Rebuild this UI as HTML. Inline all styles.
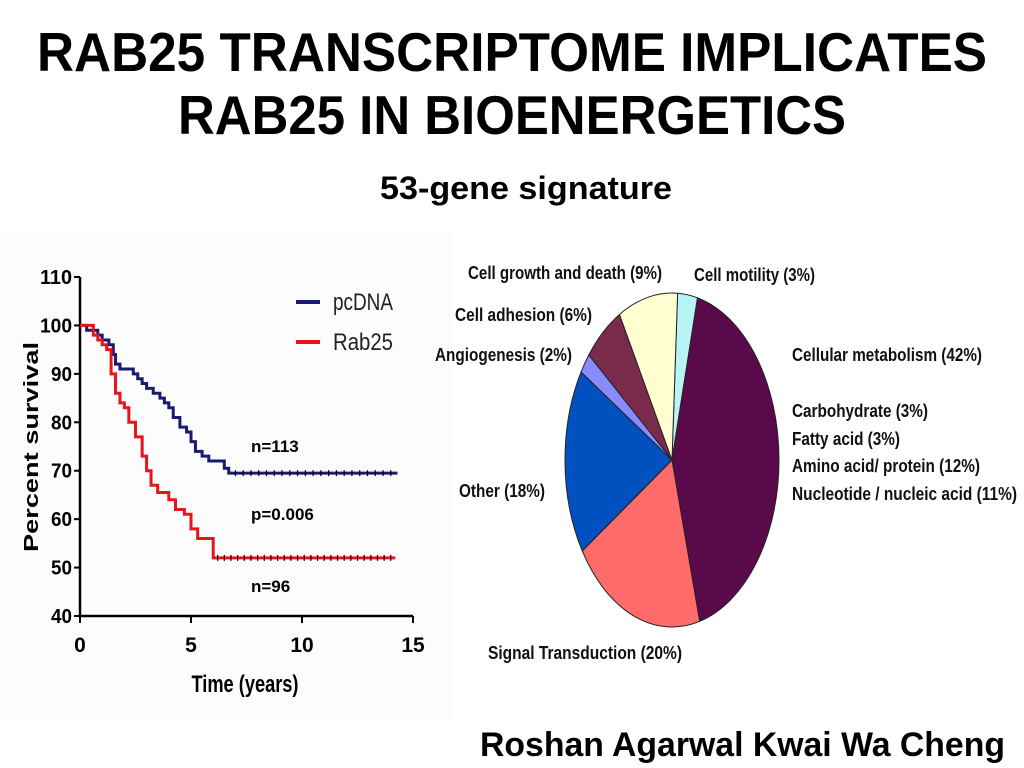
<!DOCTYPE html>
<html><head><meta charset="utf-8"><style>
html,body{margin:0;padding:0;background:#fff;}
svg{display:block;font-family:"Liberation Sans",sans-serif;}
</style></head><body>
<svg width="1024" height="768" viewBox="0 0 1024 768">
<text x="37" y="71" font-size="55" font-weight="bold" textLength="950" lengthAdjust="spacingAndGlyphs">RAB25 TRANSCRIPTOME IMPLICATES</text>
<text x="178" y="134" font-size="55" font-weight="bold" textLength="668" lengthAdjust="spacingAndGlyphs">RAB25 IN BIOENERGETICS</text>
<text x="380" y="199" font-size="32" font-weight="bold" textLength="292" lengthAdjust="spacingAndGlyphs">53-gene signature</text>
<text x="480" y="756" font-size="34" font-weight="bold" textLength="525" lengthAdjust="spacingAndGlyphs">Roshan Agarwal Kwai Wa Cheng</text>
<rect x="0" y="232" width="452" height="488" fill="#fcfcfc"/>
<g id="km"></g>
<g id="pie"></g>
</svg>
<script>
const NS="http://www.w3.org/2000/svg";
const yTicks=[40,50,60,70,80,90,100,110];
const xTicks=[0,5,10,15];
const pcdnaT=[0,0.3,0.8,1.0,1.3,1.5,1.6,1.8,2.2,2.4,2.6,2.8,3.0,3.3,3.6,3.8,4.0,4.2,4.5,4.8,5.0,5.2,5.5,5.8,6.3,6.5,6.7,14.3];
const pcdnaV=[100,99,98,97,96,94,92,91,91,90,89,88,87,86,85,84,83,81,79,78,76,74,73,72,72,70.5,69.5,69.5];
const rabT=[0,0.4,0.6,0.8,1.0,1.2,1.4,1.6,1.8,2.0,2.2,2.5,2.8,3.0,3.2,3.5,3.8,4.0,4.3,4.7,5.0,5.3,5.8,6.0,14.2];
const rabV=[100,100,98,97,96,95,90,86,84,83,80,77,73,70,67,65.5,65.5,64,62,61,58,56,56,52,52];
const pieLabels=["Cell motility","Cellular metabolism","Signal Transduction","Other","Angiogenesis","Cell adhesion","Cell growth and death"];
const pieValues=[3,42,20,18,2,6,9];
const pieColors=["#b8f4f4","#5a0a4a","#ff6b6b","#0050c0","#8a8aff","#7a2a4a","#ffffd2"];

function el(tag,attrs,parent,text){const e=document.createElementNS(NS,tag);for(const k in attrs)e.setAttribute(k,attrs[k]);if(text!==undefined)e.textContent=text;parent.appendChild(e);return e;}
const km=document.getElementById('km');
const X=t=>80+t*(333/15), Y=v=>616-(v-40)*(339/70);
let a=el('line',{x1:80,y1:277,x2:80,y2:616,stroke:'#000','stroke-width':2.5},km);

a=el('line',{x1:80,y1:616,x2:413,y2:616,stroke:'#000','stroke-width':2.5},km);

yTicks.forEach(v=>{
  const t=el('line',{x1:74,y1:Y(v),x2:80,y2:Y(v),stroke:'#000','stroke-width':2},km);
  
  const l=el('text',{x:72,y:Y(v)+7,'font-size':20,'font-weight':'bold','text-anchor':'end',textLength:v>=100?32:21,lengthAdjust:'spacingAndGlyphs'},km,String(v));
  
});
xTicks.forEach(v=>{
  const t=el('line',{x1:X(v),y1:616,x2:X(v),y2:623,stroke:'#000','stroke-width':2},km);
  
  const l=el('text',{x:X(v),y:652,'font-size':21,'font-weight':'bold','text-anchor':'middle'},km,String(v));
  
});
let tt=el('text',{x:245,y:692,'font-size':24,'font-weight':'bold','text-anchor':'middle',textLength:107,lengthAdjust:'spacingAndGlyphs'},km,'Time (years)');

tt=el('text',{x:0,y:0,'font-size':20,'font-weight':'bold','text-anchor':'middle',transform:'translate(38,447) rotate(-90)',textLength:210,lengthAdjust:'spacingAndGlyphs'},km,'Percent survival');

function step(T,V){let d=`M${X(T[0])},${Y(V[0])}`;for(let i=1;i<T.length;i++){d+=` H${X(T[i])} V${Y(V[i])}`;}return d;}
let p=el('path',{d:step(pcdnaT,pcdnaV),fill:'none',stroke:'#1a1a6e','stroke-width':3},km);

p=el('path',{d:step(rabT,rabV),fill:'none',stroke:'#e8141c','stroke-width':3},km);

for(let t=7;t<14.3;t+=0.35){const c=el('line',{x1:X(t),y1:Y(69.5)-3,x2:X(t),y2:Y(69.5)+3,stroke:'#000','stroke-width':1.2},km);}
for(let t=6.2;t<14.2;t+=0.3){const c=el('line',{x1:X(t),y1:Y(52)-3,x2:X(t),y2:Y(52)+3,stroke:'#000','stroke-width':1.2},km);}
[['pcDNA','#1a1a6e',302],['Rab25','#e8141c',342]].forEach(([n,c,y])=>{
  const g=el('g',{},km);
  el('line',{x1:296,y1:y,x2:320,y2:y,stroke:c,'stroke-width':4},g);
  el('text',{x:333,y:y+8,'font-size':24,fill:'#222',textLength:60,lengthAdjust:'spacingAndGlyphs'},g,n);
});
[['n=113',452],['p=0.006',520],['n=96',592]].forEach(([s,y])=>{const t=el('text',{x:251,y:y,'font-size':17,'font-weight':'bold'},km,s);});
const pie=document.getElementById('pie');
const cx=672,cy=460,rx=107,ry=167;
const total=pieValues.reduce((s,v)=>s+v,0);
let ang=3*Math.PI/180;
const pt=an=>[cx+rx*Math.sin(an),cy-ry*Math.cos(an)];
pieValues.forEach((v,i)=>{
  const a2=ang+v/total*2*Math.PI;const [x1,y1]=pt(ang),[x2,y2]=pt(a2);
  const s=el('path',{d:`M${cx},${cy} L${x1},${y1} A${rx},${ry} 0 ${a2-ang>Math.PI?1:0} 1 ${x2},${y2} Z`,fill:pieColors[i],stroke:'#222','stroke-width':1},pie);
  
  
  ang=a2;
});
const lbls=[["Cell growth and death (9%)",468,279,194],["Cell motility (3%)",694,281,121],["Cell adhesion (6%)",455,321,137],["Angiogenesis (2%)",435,361,137],["Cellular metabolism (42%)",792,361,190],["Carbohydrate (3%)",792,417,136],["Fatty acid (3%)",792,445,108],["Amino acid/ protein (12%)",792,472,188],["Nucleotide / nucleic acid (11%)",792,500,225],["Other (18%)",459,497,86],["Signal Transduction (20%)",488,659,194]];
lbls.forEach(([s,x,y,w])=>{const t=el('text',{x:x,y:y,'font-size':18,'font-weight':'bold',fill:'#111',textLength:w,lengthAdjust:'spacingAndGlyphs'},pie,s);});
</script>
</body></html>
